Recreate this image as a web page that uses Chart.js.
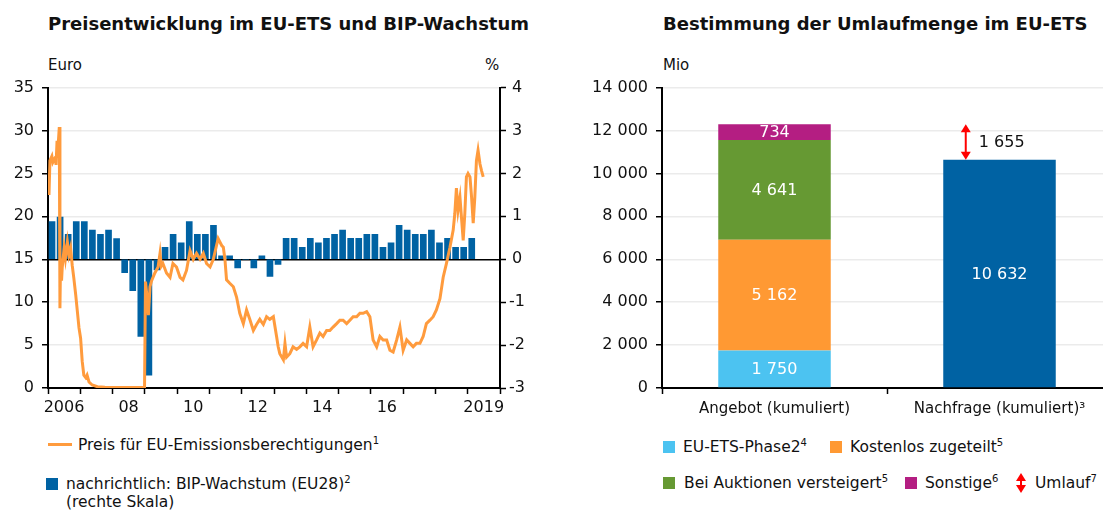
<!DOCTYPE html>
<html lang="de">
<head>
<meta charset="utf-8">
<script src="https://cdn.jsdelivr.net/npm/chart.js@4.4.1/dist/chart.umd.min.js"></script>
<style>
  html, body { margin: 0; padding: 0; background: #fff; }
  body { width: 1103px; height: 510px; overflow: hidden; position: relative;
         font-family: "DejaVu Sans", sans-serif; color: #111; }
  .abs { position: absolute; white-space: nowrap; }
  .title { font-size: 18px; font-weight: bold; }
  .unit { font-size: 15px; }
  .leg { font-size: 15.5px; line-height: 18px; }
  .sw { position: absolute; width: 12px; height: 12px; }
  sup { font-size: 10px; vertical-align: 6px; line-height: 0; }
  canvas { position: absolute; }
</style>
</head>
<body>
<div class="abs title" style="left:48px; top:13px;">Preisentwicklung im EU-ETS und BIP-Wachstum</div>
<div class="abs title" style="left:663px; top:13px;">Bestimmung der Umlaufmenge im EU-ETS</div>
<div class="abs unit" style="left:48px; top:56px;">Euro</div>
<div class="abs unit" style="left:485px; top:56px;">%</div>
<div class="abs unit" style="left:663px; top:56px;">Mio</div>

<canvas id="preis" width="540" height="350" style="left:0; top:70px;"></canvas>
<canvas id="umlauf" width="530" height="350" style="left:590px; top:70px;"></canvas>

<!-- Legende links -->
<div class="abs" style="left:48px; top:443px; width:24px; height:3px; background:#ff9b3d;"></div>
<div class="abs leg" style="left:78px; top:436px;">Preis für EU-Emissionsberechtigungen<sup>1</sup></div>
<div class="sw" style="left:46px; top:478px; background:#0062a3;"></div>
<div class="abs leg" style="left:66px; top:475px;">nachrichtlich: BIP-Wachstum (EU28)<sup>2</sup><br>(rechte Skala)</div>

<!-- Legende rechts -->
<div class="sw" style="left:663px; top:441px; background:#4cc3f1;"></div>
<div class="abs leg" style="left:683px; top:438px;">EU-ETS-Phase2<sup>4</sup></div>
<div class="sw" style="left:830px; top:441px; background:#ff9933;"></div>
<div class="abs leg" style="left:850px; top:438px;">Kostenlos zugeteilt<sup>5</sup></div>
<div class="sw" style="left:663px; top:477px; background:#669933;"></div>
<div class="abs leg" style="left:684px; top:474px;">Bei Auktionen versteigert<sup>5</sup></div>
<div class="sw" style="left:905px; top:477px; background:#b41e82;"></div>
<div class="abs leg" style="left:925px; top:474px;">Sonstige<sup>6</sup></div>
<canvas id="legPfeil" width="10" height="22" style="left:1016px; top:472px;"></canvas>
<div class="abs leg" style="left:1035px; top:474px;">Umlauf<sup>7</sup></div>

<script>
// BIP-Wachstum EU28, Veraenderung gg. Vorquartal in %, ab 2006 Q1
const bipStart = 2006;
const bipWachstum = [
  0.88, 0.98, 0.58, 0.88,
  0.88, 0.68, 0.58, 0.68,
  0.48, -0.31, -0.73, -1.8,
  -2.7, -0.25, 0.28, 0.58,
  0.38, 0.88, 0.58, 0.58,
  0.79, 0.08, 0.08, -0.2,
  0.0, -0.2, 0.08, -0.4,
  -0.12, 0.49, 0.49, 0.28,
  0.49, 0.38, 0.49, 0.58,
  0.68, 0.49, 0.49, 0.58,
  0.58, 0.28, 0.38, 0.79,
  0.68, 0.58, 0.58, 0.68,
  0.38, 0.49, 0.28, 0.28,
  0.49
];

// Preis fuer EU-Emissionsberechtigungen (Euro)
const preisZeit = [
  2006.00, 2006.03, 2006.06, 2006.12, 2006.15, 2006.22, 2006.25, 2006.28, 2006.31, 2006.35,
  2006.37, 2006.39, 2006.42, 2006.44, 2006.50, 2006.54, 2006.60, 2006.65, 2006.70, 2006.75,
  2006.80, 2006.86, 2006.91, 2006.96, 2007.01, 2007.06, 2007.11, 2007.17, 2007.21, 2007.27,
  2007.37, 2007.53, 2007.76, 2008.23, 2008.99, 2009.02, 2009.07, 2009.11, 2009.16, 2009.21,
  2009.31, 2009.41, 2009.47, 2009.51, 2009.56, 2009.67, 2009.78, 2009.87, 2009.98, 2010.09,
  2010.18, 2010.29, 2010.40, 2010.50, 2010.60, 2010.71, 2010.81, 2010.91, 2011.02, 2011.12,
  2011.22, 2011.27, 2011.38, 2011.43, 2011.48, 2011.53, 2011.63, 2011.74, 2011.84, 2011.94,
  2012.05, 2012.15, 2012.25, 2012.36, 2012.46, 2012.56, 2012.67, 2012.77, 2012.87, 2012.98,
  2013.08, 2013.13, 2013.18, 2013.29, 2013.34, 2013.39, 2013.49, 2013.59, 2013.70, 2013.80,
  2013.90, 2014.01, 2014.11, 2014.21, 2014.32, 2014.42, 2014.52, 2014.63, 2014.73, 2014.83,
  2014.94, 2015.04, 2015.14, 2015.25, 2015.35, 2015.45, 2015.56, 2015.66, 2015.76, 2015.87,
  2015.97, 2016.07, 2016.18, 2016.28, 2016.38, 2016.49, 2016.59, 2016.69, 2016.80, 2016.90,
  2017.00, 2017.11, 2017.21, 2017.31, 2017.41, 2017.52, 2017.62, 2017.72, 2017.83, 2017.93,
  2018.03, 2018.14, 2018.24, 2018.34, 2018.45, 2018.55, 2018.60, 2018.65, 2018.70, 2018.76,
  2018.81, 2018.86, 2018.91, 2018.96, 2019.01, 2019.07, 2019.12, 2019.17, 2019.22, 2019.27,
  2019.32, 2019.38, 2019.43, 2019.48
];
const preisEuro = [
  23.4, 22.5, 26.5, 27.0, 26.3, 26.8, 26.0, 28.8, 28.0, 30.4,
  9.3, 15.1, 12.5, 14.0, 16.3, 15.1, 17.0, 15.5, 16.3, 14.3,
  12.8, 10.8, 8.9, 7.0, 5.8, 3.1, 1.5, 1.2, 1.5, 0.7,
  0.35, 0.15, 0.08, 0.05, 0.05, 12.4, 10.5, 8.5, 11.8, 12.5,
  13.4, 14.1, 15.7, 14.2, 14.5, 13.4, 12.9, 14.5, 14.1, 12.9,
  12.6, 13.7, 16.0, 15.0, 15.7, 15.0, 15.7, 14.5, 14.1, 15.0,
  16.6, 17.4, 16.6, 16.4, 15.0, 12.6, 12.2, 11.8, 10.6, 8.7,
  7.5, 9.1, 8.0, 6.7, 7.4, 8.0, 7.4, 8.3, 8.0, 8.3,
  6.0, 4.8, 4.0, 3.3, 5.2, 3.6, 4.0, 4.8, 4.5, 4.8,
  5.2, 4.8, 7.1, 4.8, 5.6, 6.4, 6.0, 6.7, 6.7, 7.1,
  7.5, 7.9, 7.9, 7.5, 7.9, 8.3, 8.3, 8.7, 8.7, 8.9,
  8.3, 5.6, 4.8, 6.0, 5.6, 5.6, 4.4, 4.2, 5.6, 7.1,
  4.4, 5.6, 5.2, 4.8, 5.2, 5.2, 6.0, 7.5, 7.9, 8.3,
  9.1, 10.4, 12.9, 14.5, 16.4, 18.4, 20.3, 23.3, 20.7, 22.2,
  19.7, 17.2, 20.3, 24.6, 25.0, 24.6, 22.2, 19.2, 22.2, 26.5,
  27.7, 26.1, 25.3, 24.6
];

// Beschriftung der Zeitachse
const jahrTicks = [2006, 2008, 2010, 2012, 2014, 2016, 2019];
const jahrTexte = ["2006", "08", "10", "12", "14", "16", "2019"];

// Umlaufmenge (Mio)
const kategorien = ["Angebot (kumuliert)", "Nachfrage (kumuliert)\u00b3"];
const phase2 = [1750, null];
const kostenlos = [5162, null];
const auktionen = [4641, null];
const sonstige = [734, null];
const nachfrage = [null, 10632];

const schrift = '"DejaVu Sans", sans-serif';
const fmt = v => String(v).replace(/\B(?=(\d{3})+(?!\d))/g, " ");

function drawArrow(ctx, x, yTop, yBot) {
  const h = 5, l = 8;
  ctx.save();
  ctx.strokeStyle = "#ff0000";
  ctx.fillStyle = "#ff0000";
  ctx.lineWidth = 2;
  ctx.beginPath();
  ctx.moveTo(x, yTop + l - 1);
  ctx.lineTo(x, yBot - l + 1);
  ctx.stroke();
  ctx.beginPath();
  ctx.moveTo(x, yTop); ctx.lineTo(x - h, yTop + l); ctx.lineTo(x + h, yTop + l);
  ctx.closePath(); ctx.fill();
  ctx.beginPath();
  ctx.moveTo(x, yBot); ctx.lineTo(x - h, yBot - l); ctx.lineTo(x + h, yBot - l);
  ctx.closePath(); ctx.fill();
  ctx.restore();
}

// ---------- linkes Diagramm ----------
const bipDaten = bipWachstum.map((v, i) => ({ x: bipStart + i * 0.25 + 0.125, y: v }));
const preisDaten = preisEuro.map((v, i) => ({ x: preisZeit[i], y: v }));

new Chart(document.getElementById("preis"), {
  type: "bar",
  data: {
    datasets: [
      {
        type: "line",
        label: "Preis für EU-Emissionsberechtigungen",
        data: preisDaten,
        yAxisID: "y",
        borderColor: "#ff9b3d",
        borderWidth: 3,
        pointRadius: 0,
        tension: 0,
        order: 0,
      },
      {
        label: "BIP-Wachstum",
        data: bipDaten,
        yAxisID: "y1",
        backgroundColor: "#0062a3",
        barThickness: 6,
        order: 1,
      },
    ],
  },
  options: {
    responsive: false,
    animation: false,
    layout: { padding: { top: 17, left: 0, right: 0, bottom: 0 } },
    plugins: { legend: { display: false }, tooltip: { enabled: false } },
    scales: {
      x: {
        type: "linear",
        min: 2006,
        max: 2020,
        offset: false,
        afterFit: s => { s.height = 32; },
        border: { color: "#000", width: 2 },
        grid: { drawOnChartArea: false, offset: false, tickLength: 6, tickColor: "#000", tickWidth: 1.5 },
        ticks: {
          stepSize: 1,
          autoSkip: false,
          maxRotation: 0,
          labelOffset: 16,
          padding: 4,
          color: "#111",
          font: { family: schrift, size: 16 },
          callback: v => {
            const i = jahrTicks.indexOf(v);
            return i >= 0 ? jahrTexte[i] : "";
          },
        },
      },
      y: {
        position: "left",
        min: 0,
        max: 35,
        afterFit: s => { s.width = 48; },
        border: { color: "#000", width: 2 },
        grid: {
          color: c => (c.tick.value === 15 ? "#000" : "#ebebeb"),
          lineWidth: 1.5,
          tickLength: 6,
          tickColor: "#000",
          tickWidth: 1.5,
        },
        ticks: { stepSize: 5, padding: 8, color: "#111", font: { family: schrift, size: 16 } },
      },
      y1: {
        position: "right",
        min: -3,
        max: 4,
        afterFit: s => { s.width = 40; },
        border: { color: "#000", width: 2 },
        grid: { drawOnChartArea: false, tickLength: 6, tickColor: "#000", tickWidth: 1.5 },
        ticks: { stepSize: 1, padding: 3, crossAlign: "center", color: "#111", font: { family: schrift, size: 16 } },
      },
    },
  },
});

// ---------- rechtes Diagramm ----------
const umlaufBeschriftung = {
  id: "umlaufBeschriftung",
  afterDatasetsDraw(chart) {
    const ctx = chart.ctx;
    ctx.save();
    ctx.font = "16px " + schrift;
    ctx.textAlign = "center";
    ctx.textBaseline = "middle";
    ctx.fillStyle = "#fff";
    chart.data.datasets.forEach((ds, i) => {
      chart.getDatasetMeta(i).data.forEach((bar, j) => {
        const v = ds.data[j];
        if (v == null) return;
        ctx.fillText(fmt(v), bar.x, (bar.y + bar.base) / 2 + 1);
      });
    });
    const angebot = phase2[0] + kostenlos[0] + auktionen[0] + sonstige[0];
    const umlauf = angebot - nachfrage[1];
    const ys = chart.scales.y;
    const nBar = chart.getDatasetMeta(4).data[1];
    const ax = nBar.x - nBar.width * 0.3;
    const yTop = ys.getPixelForValue(angebot);
    const yBot = ys.getPixelForValue(nachfrage[1]);
    drawArrow(ctx, ax, yTop, yBot);
    ctx.fillStyle = "#111";
    ctx.textAlign = "left";
    ctx.fillText(fmt(umlauf), ax + 13, (yTop + yBot) / 2 + 1);
    ctx.restore();
  },
};

new Chart(document.getElementById("umlauf"), {
  type: "bar",
  data: {
    labels: kategorien,
    datasets: [
      { label: "EU-ETS-Phase2", data: phase2, backgroundColor: "#4cc3f1" },
      { label: "Kostenlos zugeteilt", data: kostenlos, backgroundColor: "#ff9933" },
      { label: "Bei Auktionen versteigert", data: auktionen, backgroundColor: "#669933" },
      { label: "Sonstige", data: sonstige, backgroundColor: "#b41e82" },
      { label: "Nachfrage", data: nachfrage, backgroundColor: "#0062a3" },
    ],
  },
  options: {
    responsive: false,
    animation: false,
    categoryPercentage: 1,
    barPercentage: 0.5,
    layout: { padding: { top: 17, right: 8, left: 0, bottom: 0 } },
    plugins: { legend: { display: false }, tooltip: { enabled: false } },
    scales: {
      x: {
        stacked: true,
        afterFit: s => { s.height = 32; },
        border: { color: "#000", width: 2 },
        grid: { drawOnChartArea: false, offset: true, tickLength: 6, tickColor: "#000", tickWidth: 1.5 },
        ticks: { padding: 6, color: "#111", font: { family: schrift, size: 15 } },
      },
      y: {
        stacked: true,
        min: 0,
        max: 14000,
        afterFit: s => { s.width = 72; },
        border: { color: "#000", width: 2 },
        grid: { color: "#ebebeb", lineWidth: 1.5, tickLength: 6, tickColor: "#000", tickWidth: 1.5 },
        ticks: { stepSize: 2000, padding: 8, color: "#111", font: { family: schrift, size: 16 }, callback: v => fmt(v) },
      },
    },
  },
  plugins: [umlaufBeschriftung],
});

// Pfeil in der Legende
const lp = document.getElementById("legPfeil").getContext("2d");
drawArrow(lp, 5, 1, 21);
</script>
</body>
</html>
